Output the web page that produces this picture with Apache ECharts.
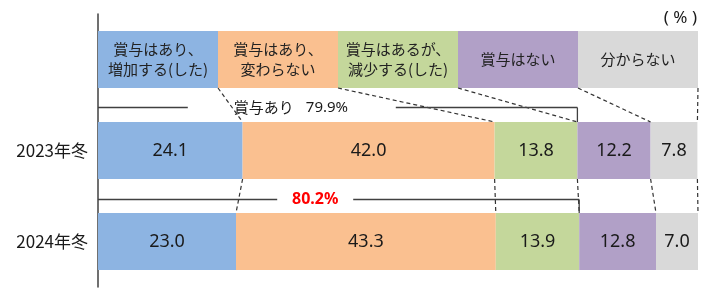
<!DOCTYPE html>
<html><head><meta charset="utf-8">
<script src="https://cdn.jsdelivr.net/npm/echarts@6/dist/echarts.min.js"></script>
<style>html,body{margin:0;padding:0;background:#fff}#c{width:710px;height:293px}</style>
</head><body><div id="c"></div>
<script>
const categories = ['', '2023年冬', '2024年冬'];
const seriesNames = ['賞与はあり、増加する(した)', '賞与はあり、変わらない', '賞与はあるが、減少する(した)', '賞与はない', '分からない'];
const headerLabels = ['賞与はあり、\n増加する(した)', '賞与はあり、\n変わらない', '賞与はあるが、\n減少する(した)', '賞与はない', '分からない'];
const headerShares = [20, 20, 20, 20, 20];
const values2023 = [24.1, 42.0, 13.8, 12.2, 7.8];
const values2024 = [23.0, 43.3, 13.9, 12.8, 7.0];
const bonusLabel = '賞与あり';
const bonusTotals = ['79.9%', '80.2%'];
const unitLabel = '( % )';

const colors = ['#8DB4E2', '#FAC090', '#C4D79B', '#B1A0C7', '#D9D9D9'];
const FONT = '"Noto Sans CJK JP", "Noto Sans", sans-serif';
const BAR_H = 57;

const chart = echarts.init(document.getElementById('c'), null, {renderer: 'canvas'});

const series = seriesNames.map((name, i) => ({
  name: name,
  type: 'bar',
  stack: 'total',
  barWidth: BAR_H,
  data: [headerShares[i], values2023[i], values2024[i]],
  itemStyle: {color: colors[i]},
  label: {
    show: true,
    position: 'inside',
    fontFamily: FONT,
    formatter: p => p.dataIndex === 0 ? '{h|' + headerLabels[i].split('\n').join('}\n{h|') + '}' : '{v|' + p.value.toFixed(1) + '}',
    rich: {
      h: {fontSize: 15, lineHeight: 20, color: '#222', fontFamily: FONT},
      v: {fontSize: 18, color: '#1a1a1a', fontFamily: '"Noto Sans", sans-serif'}
    }
  }
}));

chart.setOption({
  animation: false,
  grid: {left: 98, right: 12, top: 14, bottom: 6, containLabel: false},
  xAxis: {type: 'value', min: 0, max: 100, show: false},
  yAxis: {
    type: 'category', data: categories, inverse: true,
    axisLine: {show: true, lineStyle: {color: '#404040', width: 1.5}},
    axisTick: {show: false},
    axisLabel: {fontSize: 17, color: '#1a1a1a', fontFamily: FONT, margin: 10}
  },
  series: series
});

function px(v, cat) { return chart.convertToPixel({xAxisIndex: 0, yAxisIndex: 0}, [v, cat]); }
function cum(arr) { const out = [0]; arr.forEach(v => out.push(out[out.length - 1] + v)); return out; }

const rows = [headerShares, values2023, values2024];
const cums = rows.map(cum);
const g = [];
const dashStyle = {stroke: '#333', lineWidth: 1.2, lineDash: [4, 3]};
const solidStyle = {stroke: '#404040', lineWidth: 1.3};

for (let r = 0; r < 2; r++) {
  for (let k = 1; k <= 5; k++) {
    const a = px(cums[r][k], r), b = px(cums[r + 1][k], r + 1);
    g.push({type: 'line', shape: {x1: a[0], y1: a[1] + BAR_H / 2, x2: b[0], y2: b[1] - BAR_H / 2}, style: dashStyle, z: 10});
  }
}

// bracket lines
const brackets = [
  {row: 1, total: cums[1][3], textX: 32.3, gap: 104, yOff: 0.55},
  {row: 2, total: cums[2][3], textX: 36.2, gap: 38, yOff: 0.6}
];
brackets.forEach((b, i) => {
  const top = px(0, b.row)[1] - BAR_H / 2;
  const prevBottom = px(0, b.row - 1)[1] + BAR_H / 2;
  const y = Math.round(prevBottom + (top - prevBottom) * b.yOff) + 0.5;
  const x0 = px(0, b.row)[0];
  const xr = px(b.total, b.row)[0];
  const xc = px(b.textX, b.row)[0];
  g.push({type: 'line', shape: {x1: x0, y1: y, x2: xc - b.gap, y2: y}, style: solidStyle, z: 11});
  g.push({type: 'line', shape: {x1: xc + b.gap, y1: y, x2: xr, y2: y}, style: solidStyle, z: 11});
  g.push({type: 'line', shape: {x1: xr, y1: y, x2: xr, y2: top}, style: solidStyle, z: 11});
  if (i === 0) {
    g.push({type: 'text', z: 12, style: {text: bonusLabel, x: xc - 58, y: y, align: 'left', verticalAlign: 'middle', fontSize: 15, fontFamily: FONT, fill: '#1a1a1a'}});
    g.push({type: 'text', z: 12, style: {text: bonusTotals[0], x: xc + 14, y: y, align: 'left', verticalAlign: 'middle', fontSize: 15, fontFamily: '"Noto Sans", sans-serif', fill: '#1a1a1a'}});
  } else {
    g.push({type: 'text', z: 12, style: {text: bonusTotals[1], x: xc, y: y, align: 'center', verticalAlign: 'middle', fontSize: 16, fontWeight: 'bold', fontFamily: '"Noto Sans", sans-serif', fill: '#FF0000'}});
  }
});

g.push({type: 'text', z: 12, style: {text: unitLabel, x: 697, y: 18, align: 'right', verticalAlign: 'middle', fontSize: 17, fontFamily: '"Noto Sans", sans-serif', fill: '#1a1a1a'}});

chart.setOption({graphic: g});
</script></body></html>
